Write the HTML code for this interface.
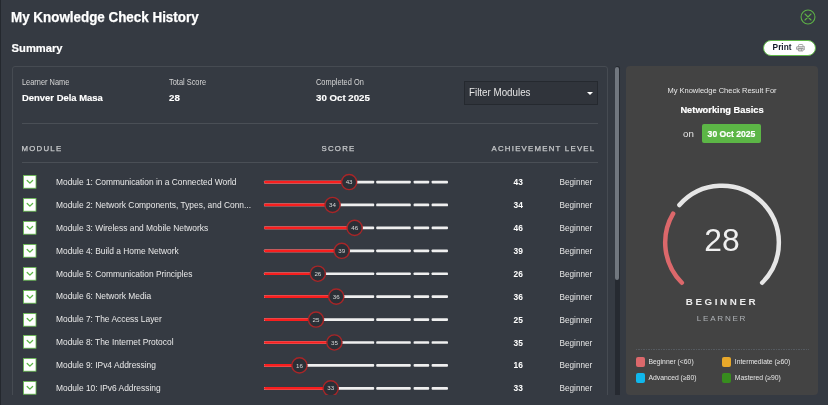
<!DOCTYPE html>
<html><head><meta charset="utf-8"><title>My Knowledge Check History</title>
<style>
*{margin:0;padding:0;box-sizing:border-box}
html,body{width:828px;height:405px;overflow:hidden}
body{background:#353a42;font-family:"Liberation Sans",Arial,sans-serif;color:#f2f2f2;position:relative}
.abs{position:absolute;white-space:nowrap}
.t1{left:11.3px;top:7.0px;font-size:14px;transform-origin:0 0;transform:scaleX(0.957);font-weight:bold;line-height:20px;color:#fff;-webkit-text-stroke:0.25px #fff}
.t2{left:11.6px;top:40.2px;font-size:11.2px;font-weight:bold;line-height:16px;color:#fff;-webkit-text-stroke:0.2px #fff}
.close{left:800.3px;top:9.1px;width:16px;height:16px}
.print{left:763px;top:40px;width:53px;height:16.4px;border:1.5px solid #62b94a;border-radius:9px;background:#fff;color:#222;font-size:8.3px;font-weight:bold}
.print span{position:absolute;left:8.6px;top:1.2px;line-height:10px;color:#141a2a}
.print svg{position:absolute;left:31.7px;top:3.2px}
.card{left:12px;top:66px;width:596px;height:340px;border:1px solid #464b52;border-radius:3px}
.lab{font-size:8.4px;color:#d6d6d6;line-height:9px;transform-origin:0 0;transform:scaleX(0.885)}
.val{font-size:9.7px;font-weight:bold;color:#fff;line-height:11px;transform-origin:0 0;-webkit-text-stroke:0.15px #fff}
.filter{left:464px;top:81px;width:134px;height:23.8px;border:1px solid #25292f;background:#30343b}
.filter span{position:absolute;left:3.9px;top:4.6px;font-size:10.1px;transform-origin:0 0;transform:scaleX(0.97);line-height:11px;color:#e6e6e6}
.filter i{position:absolute;left:122px;top:9.8px;width:0;height:0;border-left:3px solid transparent;border-right:3px solid transparent;border-top:3.4px solid #fff}
.hr{height:1px;background:#4a4f56}
.colh{font-size:7.8px;font-weight:normal;letter-spacing:1.25px;color:#c8cacc;line-height:9px;-webkit-text-stroke:0.25px #c8cacc}
.row{position:absolute;left:0;width:620px;height:22.9px}
.cb{position:absolute;left:22.6px;top:4.45px;width:14px;height:14px}
.cb svg{display:block}
.mname{position:absolute;left:55.5px;top:6.3px;font-size:8.75px;transform-origin:0 0;transform:scaleX(0.96);line-height:11px;color:#e9e9e9;white-space:nowrap}
.bar{position:absolute;left:264px;top:9.95px;width:184px;height:3px}
.seg{position:absolute;top:0;height:3px;background:#f2f2f2;border-radius:1.6px}
.s1{left:0;width:110.4px}
.s2{left:112.2px;width:34.6px}
.s3{left:149.6px;width:15.5px}
.s4{left:167.6px;width:16.4px}
.red{position:absolute;left:0;top:0;height:3px;background:#f81e1e;border-radius:1.6px 0 0 1.6px}
.knob{position:absolute;top:-6.9px;width:16.8px;height:16.8px;border-radius:50%;background:#2b2f36;border:1.4px solid #a82628;color:#d8d8d8;font-size:6.2px;line-height:14.4px;text-align:center}
.score{position:absolute;left:513.5px;top:6.5px;font-size:8.4px;font-weight:bold;line-height:11px;color:#fff}
.lvl{position:absolute;left:559.5px;top:6.5px;font-size:8.2px;line-height:11px;color:#e6e6e6}
.track{left:614.6px;top:66px;width:5.3px;height:328.8px;background:#262a31;border-radius:3px 3px 0 0}
.thumb{left:615px;top:67px;width:4.3px;height:213px;background:#71777f;border-radius:2.2px}
.panel{left:626px;top:66px;width:192px;height:329px;background:#434343;border-radius:4px}
.ctr{text-align:center;left:626px;width:192px}
.leg{font-size:6.8px;color:#e6e6e6;line-height:8px}
.sw{width:9.3px;height:9.6px;border-radius:2px}
</style></head><body>
<div class="abs" style="left:0;top:0;width:1px;height:405px;background:#24282e"></div>
<div class="abs t1">My Knowledge Check History</div>
<svg class="abs close" viewBox="0 0 16 16"><circle cx="8" cy="8" r="6.95" fill="none" stroke="#5db047" stroke-width="1.1"/><path d="M5 5 L11 11 M11 5 L5 11" stroke="#5db047" stroke-width="1.1" stroke-linecap="round"/></svg>
<div class="abs t2">Summary</div>
<div class="abs print"><span>Print</span><svg width="9.5" height="7.5" viewBox="0 0 9.5 7.5"><path d="M2.6 2.6 V1.2 Q2.6 0.5 3.3 0.5 H6.2 Q6.9 0.5 6.9 1.2 V2.6 M2.1 5.6 H1.2 Q0.5 5.6 0.5 4.9 V3.4 Q0.5 2.6 1.3 2.6 H8.2 Q9 2.6 9 3.4 V4.9 Q9 5.6 8.3 5.6 H7.4 M0.6 4.1 H8.9 M2.5 4.4 H7 V7 H2.5 Z M4 4.4 V7 M5.5 4.4 V7" fill="none" stroke="#8c8c8c" stroke-width="0.75"/></svg></div>

<div class="abs" style="left:0;top:0;width:612px;height:394.8px;overflow:hidden">
<div class="abs card"></div>
<div class="abs lab" style="left:21.5px;top:78.1px">Learner Name</div>
<div class="abs val" style="left:21.5px;top:91.6px;transform:scaleX(0.975)">Denver Dela Masa</div>
<div class="abs lab" style="left:169px;top:78.1px">Total Score</div>
<div class="abs val" style="left:169px;top:91.6px">28</div>
<div class="abs lab" style="left:316px;top:78.1px">Completed On</div>
<div class="abs val" style="left:316px;top:91.6px">30 Oct 2025</div>
<div class="abs filter"><span>Filter Modules</span><i></i></div>
<div class="abs hr" style="left:21.5px;top:122.5px;width:576.5px"></div>
<div class="abs colh" style="left:21.5px;top:144.1px">MODULE</div>
<div class="abs colh" style="left:321.5px;top:144.1px">SCORE</div>
<div class="abs colh" style="left:491.5px;top:144.1px">ACHIEVEMENT LEVEL</div>
<div class="abs hr" style="left:21.5px;top:162px;width:576.5px"></div>

<div class="row" style="top:170.60px">
  <div class="cb"><svg width="14" height="14" viewBox="0 0 14 14"><rect x="0.4" y="0.4" width="12.6" height="12.8" fill="#fff" stroke="#62b94a" stroke-width="0.8"/><path d="M4.2 5.5 L6.9 8.1 L9.6 5.5" fill="none" stroke="#5cb646" stroke-width="1.3" stroke-linecap="round" stroke-linejoin="round"/></svg></div>
  <div class="mname">Module 1: Communication in a Connected World</div>
  <div class="score">43</div>
  <div class="lvl">Beginner</div>
</div>
<div class="row" style="top:193.52px">
  <div class="cb"><svg width="14" height="14" viewBox="0 0 14 14"><rect x="0.4" y="0.4" width="12.6" height="12.8" fill="#fff" stroke="#62b94a" stroke-width="0.8"/><path d="M4.2 5.5 L6.9 8.1 L9.6 5.5" fill="none" stroke="#5cb646" stroke-width="1.3" stroke-linecap="round" stroke-linejoin="round"/></svg></div>
  <div class="mname">Module 2: Network Components, Types, and Conn...</div>
  <div class="score">34</div>
  <div class="lvl">Beginner</div>
</div>
<div class="row" style="top:216.44px">
  <div class="cb"><svg width="14" height="14" viewBox="0 0 14 14"><rect x="0.4" y="0.4" width="12.6" height="12.8" fill="#fff" stroke="#62b94a" stroke-width="0.8"/><path d="M4.2 5.5 L6.9 8.1 L9.6 5.5" fill="none" stroke="#5cb646" stroke-width="1.3" stroke-linecap="round" stroke-linejoin="round"/></svg></div>
  <div class="mname">Module 3: Wireless and Mobile Networks</div>
  <div class="score">46</div>
  <div class="lvl">Beginner</div>
</div>
<div class="row" style="top:239.36px">
  <div class="cb"><svg width="14" height="14" viewBox="0 0 14 14"><rect x="0.4" y="0.4" width="12.6" height="12.8" fill="#fff" stroke="#62b94a" stroke-width="0.8"/><path d="M4.2 5.5 L6.9 8.1 L9.6 5.5" fill="none" stroke="#5cb646" stroke-width="1.3" stroke-linecap="round" stroke-linejoin="round"/></svg></div>
  <div class="mname">Module 4: Build a Home Network</div>
  <div class="score">39</div>
  <div class="lvl">Beginner</div>
</div>
<div class="row" style="top:262.28px">
  <div class="cb"><svg width="14" height="14" viewBox="0 0 14 14"><rect x="0.4" y="0.4" width="12.6" height="12.8" fill="#fff" stroke="#62b94a" stroke-width="0.8"/><path d="M4.2 5.5 L6.9 8.1 L9.6 5.5" fill="none" stroke="#5cb646" stroke-width="1.3" stroke-linecap="round" stroke-linejoin="round"/></svg></div>
  <div class="mname">Module 5: Communication Principles</div>
  <div class="score">26</div>
  <div class="lvl">Beginner</div>
</div>
<div class="row" style="top:285.20px">
  <div class="cb"><svg width="14" height="14" viewBox="0 0 14 14"><rect x="0.4" y="0.4" width="12.6" height="12.8" fill="#fff" stroke="#62b94a" stroke-width="0.8"/><path d="M4.2 5.5 L6.9 8.1 L9.6 5.5" fill="none" stroke="#5cb646" stroke-width="1.3" stroke-linecap="round" stroke-linejoin="round"/></svg></div>
  <div class="mname">Module 6: Network Media</div>
  <div class="score">36</div>
  <div class="lvl">Beginner</div>
</div>
<div class="row" style="top:308.12px">
  <div class="cb"><svg width="14" height="14" viewBox="0 0 14 14"><rect x="0.4" y="0.4" width="12.6" height="12.8" fill="#fff" stroke="#62b94a" stroke-width="0.8"/><path d="M4.2 5.5 L6.9 8.1 L9.6 5.5" fill="none" stroke="#5cb646" stroke-width="1.3" stroke-linecap="round" stroke-linejoin="round"/></svg></div>
  <div class="mname">Module 7: The Access Layer</div>
  <div class="score">25</div>
  <div class="lvl">Beginner</div>
</div>
<div class="row" style="top:331.04px">
  <div class="cb"><svg width="14" height="14" viewBox="0 0 14 14"><rect x="0.4" y="0.4" width="12.6" height="12.8" fill="#fff" stroke="#62b94a" stroke-width="0.8"/><path d="M4.2 5.5 L6.9 8.1 L9.6 5.5" fill="none" stroke="#5cb646" stroke-width="1.3" stroke-linecap="round" stroke-linejoin="round"/></svg></div>
  <div class="mname">Module 8: The Internet Protocol</div>
  <div class="score">35</div>
  <div class="lvl">Beginner</div>
</div>
<div class="row" style="top:353.96px">
  <div class="cb"><svg width="14" height="14" viewBox="0 0 14 14"><rect x="0.4" y="0.4" width="12.6" height="12.8" fill="#fff" stroke="#62b94a" stroke-width="0.8"/><path d="M4.2 5.5 L6.9 8.1 L9.6 5.5" fill="none" stroke="#5cb646" stroke-width="1.3" stroke-linecap="round" stroke-linejoin="round"/></svg></div>
  <div class="mname">Module 9: IPv4 Addressing</div>
  <div class="score">16</div>
  <div class="lvl">Beginner</div>
</div>
<div class="row" style="top:376.88px">
  <div class="cb"><svg width="14" height="14" viewBox="0 0 14 14"><rect x="0.4" y="0.4" width="12.6" height="12.8" fill="#fff" stroke="#62b94a" stroke-width="0.8"/><path d="M4.2 5.5 L6.9 8.1 L9.6 5.5" fill="none" stroke="#5cb646" stroke-width="1.3" stroke-linecap="round" stroke-linejoin="round"/></svg></div>
  <div class="mname">Module 10: IPv6 Addressing</div>
  <div class="score">33</div>
  <div class="lvl">Beginner</div>
</div>
<svg class="abs" style="left:0;top:0" width="612" height="395" viewBox="0 0 612 395" font-family="Liberation Sans, Arial, sans-serif">
<rect x="264.0" y="180.70" width="110.2" height="2.7" rx="0.9" fill="#efefef"/><rect x="376.2" y="180.70" width="34.6" height="2.7" rx="0.9" fill="#efefef"/><rect x="413.6" y="180.70" width="15.6" height="2.7" rx="0.9" fill="#efefef"/><rect x="431.6" y="180.70" width="16.4" height="2.7" rx="0.9" fill="#efefef"/><path d="M349.12 180.70 H265.35 A1.35 1.35 0 0 0 265.35 183.40 H349.12 Z" fill="#f81e1e"/><circle cx="349.12" cy="182.05" r="7.6" fill="#2b2f36" stroke="#a82628" stroke-width="1.4"/><text x="349.12" y="184.20" text-anchor="middle" font-size="6.2" fill="#d8d8d8">43</text><rect x="264.0" y="203.62" width="110.2" height="2.7" rx="0.9" fill="#efefef"/><rect x="376.2" y="203.62" width="34.6" height="2.7" rx="0.9" fill="#efefef"/><rect x="413.6" y="203.62" width="15.6" height="2.7" rx="0.9" fill="#efefef"/><rect x="431.6" y="203.62" width="16.4" height="2.7" rx="0.9" fill="#efefef"/><path d="M332.56 203.62 H265.35 A1.35 1.35 0 0 0 265.35 206.32 H332.56 Z" fill="#f81e1e"/><circle cx="332.56" cy="204.97" r="7.6" fill="#2b2f36" stroke="#a82628" stroke-width="1.4"/><text x="332.56" y="207.12" text-anchor="middle" font-size="6.2" fill="#d8d8d8">34</text><rect x="264.0" y="226.54" width="110.2" height="2.7" rx="0.9" fill="#efefef"/><rect x="376.2" y="226.54" width="34.6" height="2.7" rx="0.9" fill="#efefef"/><rect x="413.6" y="226.54" width="15.6" height="2.7" rx="0.9" fill="#efefef"/><rect x="431.6" y="226.54" width="16.4" height="2.7" rx="0.9" fill="#efefef"/><path d="M354.64 226.54 H265.35 A1.35 1.35 0 0 0 265.35 229.24 H354.64 Z" fill="#f81e1e"/><circle cx="354.64" cy="227.89" r="7.6" fill="#2b2f36" stroke="#a82628" stroke-width="1.4"/><text x="354.64" y="230.04" text-anchor="middle" font-size="6.2" fill="#d8d8d8">46</text><rect x="264.0" y="249.46" width="110.2" height="2.7" rx="0.9" fill="#efefef"/><rect x="376.2" y="249.46" width="34.6" height="2.7" rx="0.9" fill="#efefef"/><rect x="413.6" y="249.46" width="15.6" height="2.7" rx="0.9" fill="#efefef"/><rect x="431.6" y="249.46" width="16.4" height="2.7" rx="0.9" fill="#efefef"/><path d="M341.76 249.46 H265.35 A1.35 1.35 0 0 0 265.35 252.16 H341.76 Z" fill="#f81e1e"/><circle cx="341.76" cy="250.81" r="7.6" fill="#2b2f36" stroke="#a82628" stroke-width="1.4"/><text x="341.76" y="252.96" text-anchor="middle" font-size="6.2" fill="#d8d8d8">39</text><rect x="264.0" y="272.38" width="110.2" height="2.7" rx="0.9" fill="#efefef"/><rect x="376.2" y="272.38" width="34.6" height="2.7" rx="0.9" fill="#efefef"/><rect x="413.6" y="272.38" width="15.6" height="2.7" rx="0.9" fill="#efefef"/><rect x="431.6" y="272.38" width="16.4" height="2.7" rx="0.9" fill="#efefef"/><path d="M317.84 272.38 H265.35 A1.35 1.35 0 0 0 265.35 275.08 H317.84 Z" fill="#f81e1e"/><circle cx="317.84" cy="273.73" r="7.6" fill="#2b2f36" stroke="#a82628" stroke-width="1.4"/><text x="317.84" y="275.88" text-anchor="middle" font-size="6.2" fill="#d8d8d8">26</text><rect x="264.0" y="295.30" width="110.2" height="2.7" rx="0.9" fill="#efefef"/><rect x="376.2" y="295.30" width="34.6" height="2.7" rx="0.9" fill="#efefef"/><rect x="413.6" y="295.30" width="15.6" height="2.7" rx="0.9" fill="#efefef"/><rect x="431.6" y="295.30" width="16.4" height="2.7" rx="0.9" fill="#efefef"/><path d="M336.24 295.30 H265.35 A1.35 1.35 0 0 0 265.35 298.00 H336.24 Z" fill="#f81e1e"/><circle cx="336.24" cy="296.65" r="7.6" fill="#2b2f36" stroke="#a82628" stroke-width="1.4"/><text x="336.24" y="298.80" text-anchor="middle" font-size="6.2" fill="#d8d8d8">36</text><rect x="264.0" y="318.22" width="110.2" height="2.7" rx="0.9" fill="#efefef"/><rect x="376.2" y="318.22" width="34.6" height="2.7" rx="0.9" fill="#efefef"/><rect x="413.6" y="318.22" width="15.6" height="2.7" rx="0.9" fill="#efefef"/><rect x="431.6" y="318.22" width="16.4" height="2.7" rx="0.9" fill="#efefef"/><path d="M316.00 318.22 H265.35 A1.35 1.35 0 0 0 265.35 320.92 H316.00 Z" fill="#f81e1e"/><circle cx="316.00" cy="319.57" r="7.6" fill="#2b2f36" stroke="#a82628" stroke-width="1.4"/><text x="316.00" y="321.72" text-anchor="middle" font-size="6.2" fill="#d8d8d8">25</text><rect x="264.0" y="341.14" width="110.2" height="2.7" rx="0.9" fill="#efefef"/><rect x="376.2" y="341.14" width="34.6" height="2.7" rx="0.9" fill="#efefef"/><rect x="413.6" y="341.14" width="15.6" height="2.7" rx="0.9" fill="#efefef"/><rect x="431.6" y="341.14" width="16.4" height="2.7" rx="0.9" fill="#efefef"/><path d="M334.40 341.14 H265.35 A1.35 1.35 0 0 0 265.35 343.84 H334.40 Z" fill="#f81e1e"/><circle cx="334.40" cy="342.49" r="7.6" fill="#2b2f36" stroke="#a82628" stroke-width="1.4"/><text x="334.40" y="344.64" text-anchor="middle" font-size="6.2" fill="#d8d8d8">35</text><rect x="264.0" y="364.06" width="110.2" height="2.7" rx="0.9" fill="#efefef"/><rect x="376.2" y="364.06" width="34.6" height="2.7" rx="0.9" fill="#efefef"/><rect x="413.6" y="364.06" width="15.6" height="2.7" rx="0.9" fill="#efefef"/><rect x="431.6" y="364.06" width="16.4" height="2.7" rx="0.9" fill="#efefef"/><path d="M299.44 364.06 H265.35 A1.35 1.35 0 0 0 265.35 366.76 H299.44 Z" fill="#f81e1e"/><circle cx="299.44" cy="365.41" r="7.6" fill="#2b2f36" stroke="#a82628" stroke-width="1.4"/><text x="299.44" y="367.56" text-anchor="middle" font-size="6.2" fill="#d8d8d8">16</text><rect x="264.0" y="386.98" width="110.2" height="2.7" rx="0.9" fill="#efefef"/><rect x="376.2" y="386.98" width="34.6" height="2.7" rx="0.9" fill="#efefef"/><rect x="413.6" y="386.98" width="15.6" height="2.7" rx="0.9" fill="#efefef"/><rect x="431.6" y="386.98" width="16.4" height="2.7" rx="0.9" fill="#efefef"/><path d="M330.72 386.98 H265.35 A1.35 1.35 0 0 0 265.35 389.68 H330.72 Z" fill="#f81e1e"/><circle cx="330.72" cy="388.33" r="7.6" fill="#2b2f36" stroke="#a82628" stroke-width="1.4"/><text x="330.72" y="390.48" text-anchor="middle" font-size="6.2" fill="#d8d8d8">33</text>
</svg>
</div>
<div class="abs track"></div>
<div class="abs thumb"></div>

<div class="abs panel"></div>
<div class="abs ctr" style="top:86px;font-size:7.5px;line-height:9px;color:#e8e8e8">My Knowledge Check Result For</div>
<div class="abs ctr" style="top:105px;font-size:9.3px;font-weight:bold;line-height:11px;color:#fff;-webkit-text-stroke:0.2px #fff">Networking Basics</div>
<div class="abs" style="left:683px;top:127.8px;font-size:9.7px;line-height:11px;color:#e8e8e8">on</div>
<div class="abs" style="left:702px;top:124px;width:59px;height:19px;background:#5cb646;border-radius:2px"></div>
<div class="abs" style="left:702px;top:128.5px;width:59px;text-align:center;font-size:8.6px;font-weight:bold;line-height:11px;color:#fff;-webkit-text-stroke:0.2px #fff">30 Oct 2025</div>
<svg class="abs" style="left:626px;top:146px" width="192" height="194" viewBox="626 146 192 194">
  <path d="M681.84 282.76 A56.8 56.8 0 0 1 673.11 213.69" fill="none" stroke="#dc686b" stroke-width="4.5" stroke-linecap="round"/>
  <path d="M679.39 205.04 A56.8 56.8 0 1 1 762.16 282.76" fill="none" stroke="#e6e6e6" stroke-width="4.5" stroke-linecap="round"/>
</svg>
<div class="abs ctr" style="top:221.5px;font-size:31.8px;line-height:36px;color:#f0f0f0">28</div>
<div class="abs ctr" style="top:295.8px;font-size:9.8px;font-weight:bold;letter-spacing:2.6px;line-height:12px;color:#ececec">BEGINNER</div>
<div class="abs ctr" style="top:314.4px;font-size:8.1px;letter-spacing:1.72px;line-height:10px;color:#aeb2b6">LEARNER</div>
<div class="abs" style="left:636px;top:348.5px;width:173px;height:1px;background:repeating-linear-gradient(90deg,#555a60 0 1.2px,transparent 1.2px 2.5px)"></div>
<div class="abs sw" style="left:636px;top:357.3px;background:#dc686b"></div>
<div class="abs leg" style="left:648.5px;top:357.5px">Beginner (&lt;60)</div>
<div class="abs sw" style="left:722px;top:357.3px;background:#e8a82a"></div>
<div class="abs leg" style="left:734.8px;top:357.5px">Intermediate (&#8805;60)</div>
<div class="abs sw" style="left:636px;top:373.4px;background:#10b7ec"></div>
<div class="abs leg" style="left:648.5px;top:373.7px">Advanced (&#8805;80)</div>
<div class="abs sw" style="left:722px;top:373.4px;background:#378d1e"></div>
<div class="abs leg" style="left:734.8px;top:373.7px">Mastered (&#8805;90)</div>
</body></html>
